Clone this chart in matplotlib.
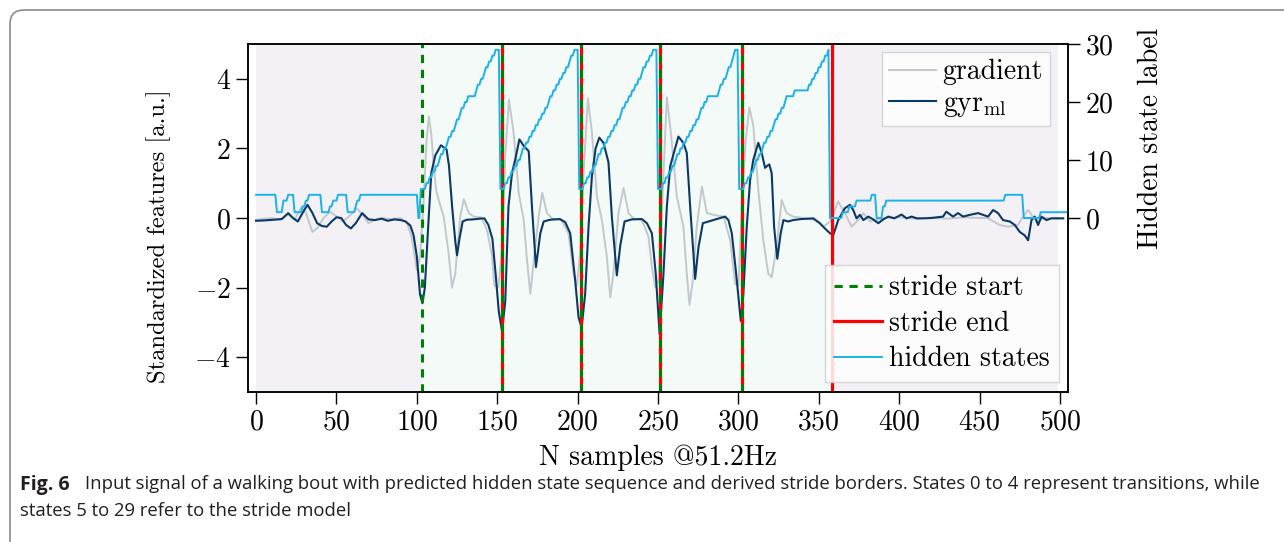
import matplotlib
matplotlib.use('Agg')
import matplotlib.pyplot as plt
from matplotlib.patches import FancyBboxPatch
from matplotlib.transforms import IdentityTransform

plt.rcParams['font.family'] = 'cmr10'
plt.rcParams['mathtext.fontset'] = 'cm'
plt.rcParams['axes.formatter.use_mathtext'] = True
plt.rcParams['font.size'] = 20

# gyr_ml signal
gyr_x = [0, 5, 11, 16, 20, 23, 26, 29, 32, 35, 38, 41, 44, 47, 50, 53, 56, 59, 62, 66, 70, 74, 78, 82, 86, 90, 93, 96, 98, 100, 102, 103.5, 105, 107, 109, 111.5, 115, 118.5, 120, 122, 124, 125, 126.5, 128.5, 131, 135, 139, 142, 144.5, 147, 149, 151, 153, 155, 157, 159.2, 161.2, 163.8, 166.5, 169.6, 171.6, 174.1, 176.8, 178.9, 183, 189, 192.3, 195.4, 198.5, 200.6, 202.5, 204.7, 206.8, 208.9, 211.2, 213.5, 216.1, 219.2, 221.3, 224.4, 226.5, 229.2, 233.7, 240, 243.1, 246.2, 248.6, 251, 253.4, 255.5, 257.6, 259.6, 262.7, 265.8, 267.9, 270, 273.1, 275.2, 277.9, 281.4, 286.6, 291.7, 293.8, 295.9, 298.6, 301.5, 303.1, 305.2, 307.3, 309.3, 312.4, 314.5, 316.6, 318, 319.2, 320.7, 322.2, 324.2, 326.3, 328, 331, 334, 339, 346.6, 350.7, 353.8, 357, 359, 362.1, 366.2, 369.4, 371.4, 373.5, 375.6, 377.7, 380.8, 383.9, 387, 390.1, 393.2, 397, 401.5, 404.6, 407.7, 411, 414.9, 420, 427.3, 429.3, 433.5, 436.6, 439.8, 443.9, 449.1, 452.2, 455.3, 458.4, 461.5, 464.6, 468.8, 471.9, 475, 478.1, 480.2, 482.3, 484.3, 486.4, 488.5, 491.6, 494.7, 502]
gyr_y = [-0.08, -0.07, -0.05, -0.03, 0.14, 0.0, -0.1, 0.15, 0.38, 0.15, -0.15, -0.23, -0.25, -0.1, 0.02, 0.0, -0.2, -0.3, -0.15, 0.14, -0.04, -0.06, -0.02, -0.08, -0.04, -0.06, -0.1, -0.22, -0.5, -1.1, -2.2, -2.45, -2.0, -0.3, 1.3, 1.8, 2.09, 1.97, 1.5, 0.3, -0.7, -1.07, -0.6, -0.1, -0.05, -0.04, -0.02, -0.01, -0.2, -0.6, -1.6, -2.7, -3.25, -2.4, 0.33, 1.29, 1.68, 2.26, 2.07, 1.92, 0.33, -1.41, -0.44, -0.1, -0.05, -0.03, -0.12, -0.44, -1.8, -2.86, -3.15, -2.18, -0.25, 1.2, 2.0, 2.31, 2.16, 1.6, 0.04, -1.65, -0.8, -0.1, -0.04, -0.03, -0.15, -0.44, -1.6, -3.34, -1.6, 0.33, 1.49, 1.83, 2.34, 2.16, 1.87, 0.33, -1.75, -0.83, -0.15, -0.1, -0.03, 0.04, -0.06, -0.44, -1.6, -2.96, -2.18, -0.25, 1.1, 1.68, 2.16, 1.87, 1.44, 1.5, 1.54, 1.29, -0.25, -1.17, -0.44, -0.06, -0.1, -0.06, -0.03, -0.01, -0.15, -0.3, -0.44, -0.49, -0.06, 0.28, 0.38, 0.23, -0.01, 0.09, -0.06, 0.04, -0.04, -0.15, -0.04, 0.04, -0.01, 0.1, -0.01, 0.04, -0.01, -0.01, 0.0, 0.04, 0.18, 0.04, 0.14, 0.04, 0.09, 0.14, 0.09, 0.04, 0.23, 0.14, -0.06, -0.1, -0.2, -0.4, -0.5, -0.64, -0.06, 0.04, -0.2, 0.04, -0.06, -0.01, -0.01]

# gradient signal
grad_x = [0, 5, 10, 15, 20, 24, 28, 31, 35, 38, 42, 46, 50, 54, 58, 62.7, 66, 70, 74, 78, 84, 90, 94, 97, 100, 102, 104, 106, 107.5, 109, 110.5, 112, 114, 116.7, 119.8, 121.9, 123.9, 127, 129.2, 132.3, 135.4, 140, 143.7, 146.8, 148.2, 150.7, 153, 155, 157.3, 160.2, 162.3, 163.4, 166.5, 168.5, 170.6, 173.7, 175.8, 178, 180.9, 184, 190, 194.3, 197.5, 199.6, 201.6, 203.7, 206.4, 208.9, 212, 215.1, 218.2, 220.3, 222.3, 225.4, 228.6, 231.7, 234.8, 240, 244.1, 246.2, 248.3, 250.3, 252.5, 255.5, 258, 261.7, 265.8, 267.9, 269.6, 271.6, 274.1, 277.3, 280.4, 284.6, 290.8, 294.9, 298, 300.1, 302.1, 304.5, 306.8, 309.3, 312.4, 315.5, 318.6, 320.7, 323.8, 326.9, 330, 334, 340, 347.6, 352.8, 357, 362.1, 366.2, 370.4, 374.5, 377.7, 381.8, 386, 392, 400, 410, 420, 430, 440, 450, 455, 462.5, 467.7, 473.9, 477, 480.2, 483, 486.4, 490, 502]
grad_y = [-0.05, -0.02, 0.0, -0.05, 0.1, -0.05, 0.3, 0.15, -0.4, -0.3, 0.0, 0.18, 0.05, -0.1, 0.05, 0.28, 0.1, -0.15, -0.05, 0.0, -0.03, 0.0, -0.15, -0.6, -1.5, -1.1, 0.3, 2.2, 2.92, 2.4, 1.49, 0.8, 0.45, 0.04, -1.02, -2.0, -1.6, 0.04, 0.54, 0.14, 0.04, 0.02, -0.35, -1.1, -1.94, -1.99, -0.9, 1.8, 3.4, 2.45, 1.3, 0.71, -0.06, -1.2, -2.18, -0.8, 0.04, 0.73, 0.14, -0.01, -0.06, -0.44, -1.6, -1.94, -1.0, 1.29, 3.44, 2.45, 0.62, -0.06, -1.12, -2.28, -1.6, 0.14, 0.86, 0.14, -0.01, -0.06, -0.54, -1.41, -1.99, -1.8, 0.3, 3.47, 2.46, 0.62, -0.25, -1.6, -2.5, -1.8, -0.25, 0.9, 0.14, 0.09, 0.04, -0.64, -1.9, -1.94, 0.33, 2.2, 3.18, 2.65, 0.8, -0.64, -1.6, -1.7, -0.83, 0.52, 0.14, 0.04, 0.0, -0.06, -0.25, -0.1, 0.47, 0.14, -0.25, -0.06, 0.14, -0.1, -0.06, 0.0, 0.02, -0.02, 0.01, -0.02, 0.02, 0.0, 0.0, -0.2, -0.25, -0.2, 0.04, 0.23, 0.04, -0.1, 0.0, -0.01]

# hidden state sequence: sample index where each state begins
pre_x = [0, 13, 17, 20, 24, 29, 31, 33, 41, 46, 48, 51, 57, 62, 63, 65, 101]
pre_v = [4, 1, 3, 4, 1, 2, 3, 4, 1, 2, 3, 4, 1, 2, 3, 4, 0]
stride_states = list(range(5, 30))
stride1_x = [102.5, 106, 108, 110, 112, 114, 115, 117, 119, 120, 122, 124, 125, 127, 128, 130, 132, 137, 138, 140, 142, 143, 145, 147, 149]
stride2_x = [152, 155, 157, 159, 161, 163, 165, 166, 168, 170, 172, 174, 176, 178, 180, 182, 183, 185, 187, 189, 191, 193, 195, 196, 198]
stride3_x = [201, 204, 206, 208, 210, 212, 213, 215, 217, 219, 221, 223, 225, 227, 228, 230, 232, 234, 236, 238, 240, 241, 243, 245, 247]
stride4_x = [250, 253, 255, 257, 259, 261, 262, 264, 266, 268, 270, 272, 274, 276, 277, 279, 281, 288, 289, 291, 293, 294, 296, 297, 298]
stride5_x = [300.5, 304, 306, 308, 310, 311, 313, 315, 316, 318, 320, 322, 323, 325, 327, 329, 330, 335, 344, 346, 348, 350, 352, 354, 356]
post_x = [357, 365, 369, 373.5, 383, 386, 390, 392, 466, 477.5, 488, 505]
post_v = [0, 1, 2, 3, 4, 0, 2, 3, 4, 0, 1, 1]

stride_start = [103.5, 153, 202, 251, 302]
stride_end = [153, 202, 251, 302, 358]

hs_x = pre_x + stride1_x + stride2_x + stride3_x + stride4_x + stride5_x + post_x
hs_v = pre_v + stride_states * 5 + post_v

# sampled signal: each state held until the sample before the next one
hs_px, hs_pv = [], []
for i in range(len(hs_x)):
    hs_px.append(hs_x[i])
    hs_pv.append(hs_v[i])
    if i + 1 < len(hs_x) and hs_x[i + 1] - 1 > hs_x[i]:
        hs_px.append(hs_x[i + 1] - 1)
        hs_pv.append(hs_v[i])

fig = plt.figure(figsize=(12.84, 5.42), dpi=100)
ax = fig.add_axes([248 / 1284, 1 - 392 / 542, 820 / 1284, 348 / 542])
ax2 = ax.twinx()

# background: rest / walking / rest
ax.axvspan(0, stride_start[0], color='#f3f1f6', lw=0, zorder=0)
ax.axvspan(stride_start[0], stride_end[-1], color='#f3faf8', lw=0, zorder=0)
ax.axvspan(stride_end[-1], 499, color='#f3f1f6', lw=0, zorder=0)

ax.plot(grad_x, grad_y, color='#c3c8cc', lw=1.4, label='gradient')
ax.plot(gyr_x, gyr_y, color='#0b3966', lw=1.5, label=r'gyr$_{\mathrm{ml}}$')

for xe in stride_end:
    end_line = ax.axvline(xe, color='red', lw=2.3)
for xs in stride_start:
    start_line = ax.axvline(xs, color='green', lw=2.2, ls=(0, (2.7, 2.2)))
hs_line, = ax2.plot(hs_px, hs_pv, color='#1ab2e8', lw=1.4)

ax.set_xlim(-5, 505)
ax.set_ylim(-5, 5)
ax2.set_ylim(-30, 30)
ax.set_xticks(range(0, 501, 50))
ax.set_yticks([-4, -2, 0, 2, 4])
ax2.set_yticks([0, 10, 20, 30])

for a in (ax, ax2):
    a.tick_params(direction='out', length=8.5, width=1, pad=4, colors='black')
    for s in a.spines.values():
        s.set_linewidth(1.1)

ax.set_xlabel('N samples @51.2Hz', labelpad=6)
ylab = ax.set_ylabel('Standardized features [a.u.]', fontsize=18)
ax.yaxis.set_label_coords(-0.094, 0.448)
ax2.set_ylabel('Hidden state label')
ax2.yaxis.set_label_coords(1.085, 0.73)

leg1 = ax.legend(loc='upper right', bbox_to_anchor=(1 - 18 / 820, 1 - 8 / 348), borderaxespad=0,
                 fancybox=False, edgecolor='#d0d0d0', framealpha=0.85, handlelength=1.7,
                 handletextpad=0.25, borderpad=0.25, labelspacing=0.2)
leg2 = ax2.legend([start_line, end_line, hs_line], ['stride start', 'stride end', 'hidden states'],
                  loc='lower right', bbox_to_anchor=(1 - 9 / 820, 10 / 348), borderaxespad=0,
                  fancybox=False, edgecolor='#d0d0d0', framealpha=0.85, handlelength=1.7,
                  handletextpad=0.25, borderpad=0.35, labelspacing=0.33)

# rounded frame of the figure panel
fig.add_artist(FancyBboxPatch((10, -40), 1330, 572, boxstyle='round,pad=0,rounding_size=14',
                              transform=IdentityTransform(), fill=False, ec='#8a8a8a', lw=1.2))

cap_font = ['Open Sans', 'DejaVu Sans']
fig.text(20 / 1284, 1 - 485 / 542, 'Fig. 6', family=cap_font, fontweight='bold', fontsize=14,
         va='center', color='#231f20')
line1 = fig.text(85 / 1284, 1 - 484 / 542,
                 'Input signal of a walking bout with predicted hidden state sequence and derived stride borders. '
                 'States 0 to 4 represent transitions, while',
                 family=cap_font, fontsize=11.5, va='center', color='#231f20')
line2 = fig.text(20 / 1284, 1 - 511 / 542, 'states 5 to 29 refer to the stride model',
                 family=cap_font, fontsize=11.5, va='center', color='#231f20')
fig.canvas.draw()
w = line1.get_window_extent().width
fs = 11.5 * 1177 / w
line1.set_fontsize(fs)
line2.set_fontsize(fs)
# y label spans about 295 px in the reference
h = ylab.get_window_extent().height
ylab.set_fontsize(18 * 295 / h)

fig.savefig('out.png', dpi=100)
